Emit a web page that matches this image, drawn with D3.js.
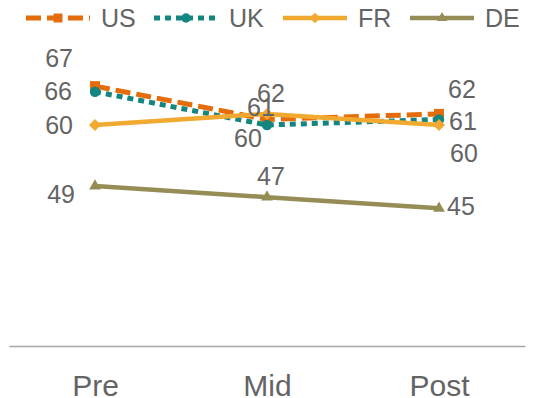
<!DOCTYPE html>
<html>
<head>
<meta charset="utf-8">
<script src="https://cdn.jsdelivr.net/npm/d3@7"></script>
<style>
  html, body { margin: 0; padding: 0; background: #fff; }
  svg { display: block; }
  text { font-family: "Liberation Sans", Arial, sans-serif; fill: #646464; }
</style>
</head>
<body>
<svg id="chart" width="535" height="398"></svg>
<script>
// ---- data ----
const categories = ["Pre", "Mid", "Post"];
const seriesNames = ["US", "UK", "FR", "DE"];
const usValues = [67, 61, 62];
const ukValues = [66, 60, 61];
const frValues = [60, 62, 60];
const deValues = [49, 47, 45];

// ---- styles (not data) ----
const styles = {
  US: { color: "#E46C0A", width: 5, dash: "15,6", marker: "square" },
  UK: { color: "#14857F", width: 5, dash: "6,5", marker: "circle" },
  FR: { color: "#F2A92F", width: 4.5, dash: null, marker: "diamond" },
  DE: { color: "#958D55", width: 4.5, dash: null, marker: "triangle" }
};
// label offsets [dx, dy, anchor] per series per point
const labelOffsets = {
  US: [[-22, -19, "end"], [-6, -3, "middle"], [9, -16, "start"]],
  UK: [[-23, 8, "end"], [-19, 22, "middle"], [10, 11, "start"]],
  FR: [[-22, 9, "end"], [4, -12, "middle"], [11, 37, "start"]],
  DE: [[-20, 17, "end"], [4, -12, "middle"], [8, 7, "start"]]
};

const seriesData = [usValues, ukValues, frValues, deValues];
const series = seriesNames.map((name, i) => ({ name, values: seriesData[i] }));

const svg = d3.select("#chart");
const plotLeft = 9, plotRight = 525, plotTop = 14, plotBottom = 347;

const x = d3.scalePoint().domain(categories).range([plotLeft, plotRight]).padding(0.5);
const y = d3.scaleLinear().domain([20, 80]).range([plotBottom, plotTop]);

// axis
const xAxis = d3.axisBottom(x).tickSize(0).tickPadding(0);
const gx = svg.append("g").attr("transform", `translate(0,${y(20) - 1})`).call(xAxis);
gx.select(".domain").attr("stroke", "#A6A6A6").attr("stroke-width", 1.5);
gx.selectAll(".tick text")
  .attr("y", 50).attr("dy", 0)
  .style("font-family", '"Liberation Sans", Arial, sans-serif')
  .style("font-size", "30px").attr("fill", "#646464");

const squareDiamond = {
  draw(ctx, size) {
    const r = Math.sqrt(size / 2);
    ctx.moveTo(0, -r); ctx.lineTo(r, 0); ctx.lineTo(0, r); ctx.lineTo(-r, 0); ctx.closePath();
  }
};

function markerPath(type, scale) {
  const k = scale || 1;
  const sym = {
    square: d3.symbol(d3.symbolSquare, 100 * k),
    circle: d3.symbol(d3.symbolCircle, 85 * k),
    diamond: d3.symbol(squareDiamond, 72 * k),
    triangle: d3.symbol(d3.symbolTriangle, 60 * k)
  }[type];
  return sym();
}

const line = d3.line().x((d, i) => x(categories[i])).y(d => y(d));

series.forEach(s => {
  const st = styles[s.name];
  const g = svg.append("g");
  g.append("path").datum(s.values)
    .attr("d", line).attr("fill", "none")
    .attr("stroke", st.color).attr("stroke-width", st.width)
    .attr("stroke-dasharray", st.dash)
    .attr("stroke-linejoin", "round");
  g.selectAll("path.m").data(s.values).enter().append("path")
    .attr("class", "m")
    .attr("d", markerPath(st.marker))
    .attr("transform", (d, i) => `translate(${x(categories[i])},${y(d)})`)
    .attr("fill", st.color);
});

// labels
series.forEach(s => {
  svg.append("g").selectAll("text").data(s.values).enter().append("text")
    .attr("x", (d, i) => x(categories[i]) + labelOffsets[s.name][i][0])
    .attr("y", (d, i) => y(d) + labelOffsets[s.name][i][1])
    .attr("text-anchor", (d, i) => labelOffsets[s.name][i][2])
    .style("font-size", "25px")
    .text(d => d);
});

// legend
const legendX = [26, 154, 283, 410];
const legendY = 18;
series.forEach((s, i) => {
  const st = styles[s.name];
  const g = svg.append("g").attr("transform", `translate(${legendX[i]},${legendY})`);
  g.append("line").attr("x1", 0).attr("x2", 64).attr("y1", 0).attr("y2", 0)
    .attr("stroke", st.color).attr("stroke-width", st.width)
    .attr("stroke-dasharray", st.dash);
  g.append("path").attr("d", markerPath(st.marker, 0.8))
    .attr("transform", "translate(32,0)").attr("fill", st.color);
  g.append("text").attr("x", 75).attr("y", 9).style("font-size", "25px").text(s.name);
});
</script>
</body>
</html>
